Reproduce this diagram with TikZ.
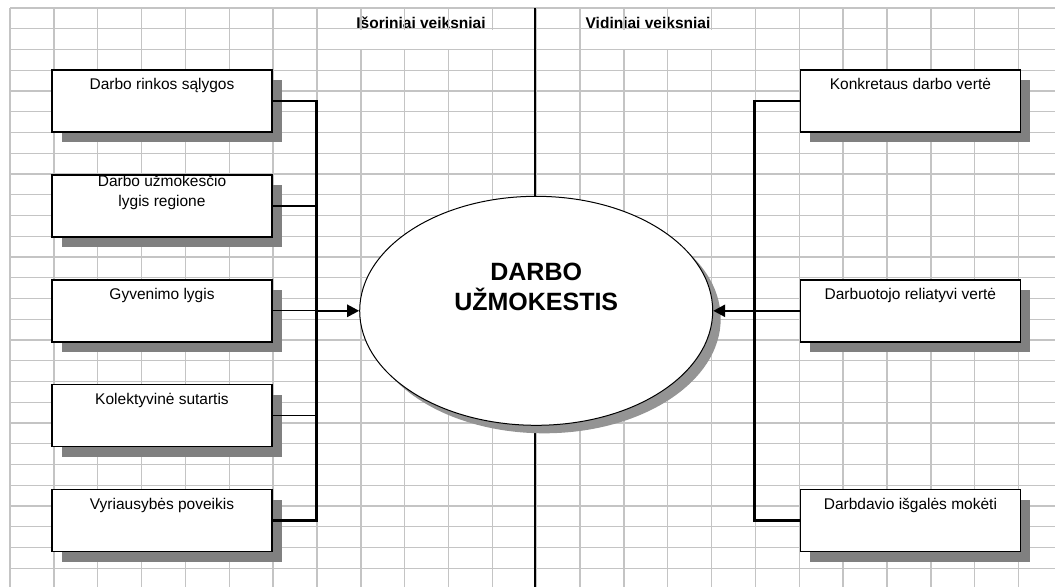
\documentclass[tikz,border=0pt]{standalone}
\usepackage{fontspec}
\setmainfont{Liberation Sans}
\usepackage{xcolor}
\usepackage{tikz}
\usetikzlibrary{arrows.meta,positioning,shapes.geometric,shadows,calc}

\definecolor{gridgray}{RGB}{196,196,196}
\definecolor{shadegray}{RGB}{128,128,128}

\begin{document}
\begin{tikzpicture}[
    x=1pt, y=-1pt,
    font=\fontsize{15.5}{20}\selectfont,
    gridline/.style={draw=gridgray, line width=1.4pt},
    header/.style={font=\fontsize{15.5}{18}\selectfont\bfseries, inner sep=0pt, anchor=base},
    factor/.style={draw, line width=1.4pt, fill=white, minimum width=220pt, minimum height=62pt, inner sep=0pt,
      drop shadow={shadow xshift=10pt, shadow yshift=-10pt, fill=shadegray, opacity=1}},
    caption/.style={label={[anchor=base, inner sep=0pt, yshift=-20.5pt]north:#1}},
    wage/.style={ellipse, draw, line width=1pt, fill=white, minimum width=353pt, minimum height=229pt, inner sep=0pt,
      drop shadow={shadow xshift=8pt, shadow yshift=-8pt, fill=black!42, opacity=1}},
    link/.style={line width=2.6pt},
    thinlink/.style={line width=1pt},
    arrow/.style={-{Triangle[length=12pt, width=12pt]}}
  ]
  \useasboundingbox (0,0) rectangle (1055,587);

  \node[header] (isor) at (421,28) {Išoriniai veiksniai};
  \node[header] (vid) at (648,28) {Vidiniai veiksniai};

  \foreach \i in {0,...,23} \draw[gridline] (10+43.85*\i,8) -- (10+43.85*\i,587);
  \foreach \j in {0,...,27} \draw[gridline] (10,8+20.75*\j) -- (1055,8+20.75*\j);
  \fill[white] (318,29.6) rectangle (533,48.7);
  \fill[white] (582,29.6) rectangle (755,48.7);

  \coordinate (divtop) at (535,8);
  \coordinate (divbot) at (535,587);
  \draw[line width=2pt] (divtop) -- (divbot);

  \node[factor, caption={Darbo rinkos sąlygos}] (rinka) at (162,101) {};
  \node[factor, below=41.5pt of rinka,
    label={[anchor=north, align=center, inner sep=0pt, yshift=-1pt]north:Darbo užmokesčio\\lygis regione}] (uzmok) {};
  \node[factor, below=41.5pt of uzmok, caption={Gyvenimo lygis}] (gyven) {};
  \node[factor, below=41.5pt of gyven, caption={Kolektyvinė sutartis}] (kolekt) {};
  \node[factor, below=41.5pt of kolekt, caption={Vyriausybės poveikis}] (vyriaus) {};

  \node[factor, right=527pt of rinka, caption={Konkretaus darbo vertė}] (konkret) {};
  \node[factor, right=527pt of gyven, caption={Darbuotojo reliatyvi vertė}] (reliat) {};
  \node[factor, right=527pt of vyriaus, caption={Darbdavio išgalės mokėti}] (isgales) {};

  \node[wage, label={[font=\fontsize{25}{30}\selectfont\bfseries, align=center, inner sep=0pt, yshift=23.5pt]center:DARBO\\UŽMOKESTIS}]
    (alga) at ($(gyven)!0.5!(reliat)$) {};

  \coordinate (lbus) at ($(rinka.east)+(44,0)$);
  \coordinate (rbus) at ($(konkret.west)+(-45,0)$);

  \draw[link] (rinka.east) -- (lbus) |- (vyriaus.east);
  \draw[link] (uzmok.east) -- (uzmok.east -| lbus);
  \draw[thinlink] (gyven.east) -- (gyven.east -| lbus);
  \draw[thinlink] (kolekt.east) -- (kolekt.east -| lbus);
  \draw[link, arrow] (gyven.east -| lbus) -- (alga.west);

  \draw[link] (konkret.west) -- (rbus) |- (isgales.west);
  \draw[link, arrow] (reliat.west) -- (alga.east);
\end{tikzpicture}
\end{document}
